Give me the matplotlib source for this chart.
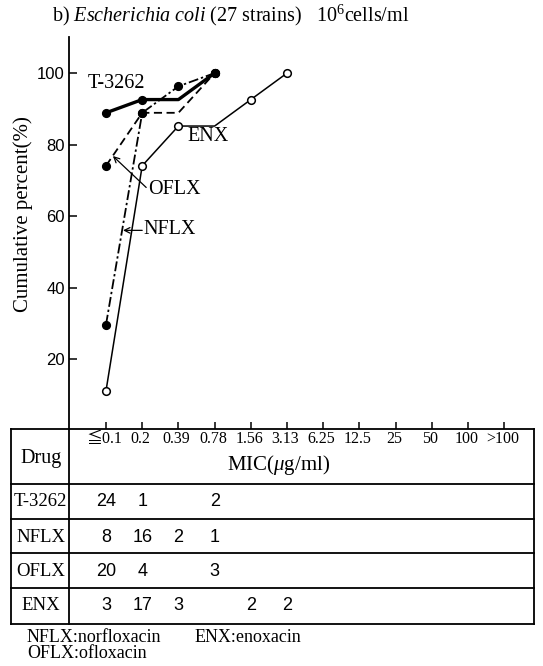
import numpy as np
import matplotlib.pyplot as plt
from matplotlib.lines import Line2D
from matplotlib.transforms import blended_transform_factory

plt.rcParams['font.family'] = ['Liberation Serif', 'Noto Sans CJK JP']
plt.rcParams['mathtext.fontset'] = 'custom'
plt.rcParams['mathtext.rm'] = 'Liberation Serif'
plt.rcParams['mathtext.it'] = 'Liberation Serif:italic'

# --- data ---
mic_labels = ["≦0.1", "0.2", "0.39", "0.78", "1.56", "3.13",
              "6.25", "12.5", "25", "50", "100", ">100"]
drugs = ["T-3262", "NFLX", "OFLX", "ENX"]
counts_t3262 = [24, 1, 0, 2]
counts_nflx = [8, 16, 2, 1]
counts_oflx = [20, 4, 0, 3]
counts_enx = [3, 17, 3, 0, 2, 2]
n_strains = 27
y_ticks = [20, 40, 60, 80, 100]

all_counts = [counts_t3262, counts_nflx, counts_oflx, counts_enx]

W, H = 543, 666


def fx(px):
    return px / W


def fy(py):
    return 1 - py / H


fig = plt.figure(figsize=(W / 100, H / 100), dpi=100)
ax = fig.add_axes([fx(69), fy(429), fx(534) - fx(69), fy(37) - fy(429)])
ax.set_xlim(-1.022, 11.82)
ax.set_ylim(0.42, 110.1)

styles = [
    dict(lw=2.4, ls='-', mfc='k'),
    dict(lw=1.3, ls=(0, (5.5, 1.6, 1.3, 1.6)), mfc='k'),
    dict(lw=1.3, ls=(0, (4.5, 2.5)), mfc='k'),
    dict(lw=1.1, ls='-', mfc='white'),
]

for counts, st in zip(all_counts, styles):
    c = np.array(counts)
    cum = np.cumsum(c) / n_strains * 100
    x = np.arange(len(c))
    ax.plot(x, cum, color='k', lw=st['lw'], ls=st['ls'], zorder=2)
    m = c > 0
    ax.plot(x[m], cum[m], ls='none', marker='o', ms=5.5, mfc=st['mfc'],
            mec='k', mew=1.1, zorder=3)

# curve labels
ax.text(-0.5, 97.2, "T-3262", fontsize=14.5, ha='left', va='center')
ax.text(2.25, 82.4, "ENX", fontsize=14.5, ha='left', va='center')
ax.text(1.15, 67.3, "OFLX", fontsize=14.5, ha='left', va='center')
ax.text(1.02, 56.1, "NFLX", fontsize=14.5, ha='left', va='center')
ax.annotate("", xy=(0.19, 76.8), xytext=(1.11, 68.0),
            arrowprops=dict(arrowstyle='->', lw=0.9, color='k',
                            shrinkA=0, shrinkB=0))
ax.annotate("", xy=(0.47, 56.0), xytext=(1.0, 56.0),
            arrowprops=dict(arrowstyle='->', lw=0.9, color='k',
                            shrinkA=0, shrinkB=0))

# axes styling
for s in ['top', 'right', 'bottom']:
    ax.spines[s].set_visible(False)
ax.spines['left'].set_linewidth(1.3)
ax.set_xticks(np.arange(len(mic_labels)))
ax.set_xticklabels([])
ax.set_yticks(y_ticks)
ax.set_yticklabels([str(v) for v in y_ticks], family='Liberation Sans',
                   fontsize=12)
ax.tick_params(axis='both', direction='in', length=6, width=1.1, pad=3)
ax.tick_params(axis='x', length=5)
ax.set_ylabel("Cumulative percent(%)", fontsize=15)
ax.yaxis.set_label_coords(-0.077, 0.548)

fig.text(fx(52), fy(15),
         r"b) $\mathit{Escherichia\ coli}$ (27 strains)   10$^{6}$cells/ml",
         fontsize=14.5, ha='left', va='center')

# --- table ---
lw_tab = 1.3
rows_y = [429, 484, 519, 553, 588, 624]
for yy in rows_y:
    fig.add_artist(Line2D([fx(11), fx(534)], [fy(yy), fy(yy)],
                          transform=fig.transFigure, color='k', lw=lw_tab))
for xx in [11, 69, 534]:
    fig.add_artist(Line2D([fx(xx), fx(xx)], [fy(429), fy(624)],
                          transform=fig.transFigure, color='k', lw=lw_tab))

trans = blended_transform_factory(ax.transData, fig.transFigure)
for i, lab in enumerate(mic_labels):
    ax.text(i - 0.05, fy(439), lab, transform=trans, fontsize=11.5,
            ha='center', va='center', clip_on=False)
fig.text(fx(279), fy(465), r"MIC($\mathit{\mu}$g/ml)", fontsize=15,
         ha='center', va='center')
fig.text(fx(41), fy(458), "Drug", fontsize=14.5, ha='center', va='center')

row_centers = [502, 537, 571, 606]
for drug, counts, yc in zip(drugs, all_counts, row_centers):
    fig.text(fx(40.5), fy(yc), drug, fontsize=13.5, ha='center', va='center')
    for i, v in enumerate(counts):
        if v > 0:
            ax.text(i, fy(yc), str(v), transform=trans, fontsize=13,
                    family='Liberation Sans', ha='center', va='center',
                    clip_on=False)

fig.text(fx(27), fy(637), "NFLX:norfloxacin", fontsize=13,
         ha='left', va='center')
fig.text(fx(195), fy(637), "ENX:enoxacin", fontsize=13,
         ha='left', va='center')
fig.text(fx(27), fy(653), "OFLX:ofloxacin", fontsize=13,
         ha='left', va='center')

fig.savefig("out.png", dpi=100, facecolor='white')
